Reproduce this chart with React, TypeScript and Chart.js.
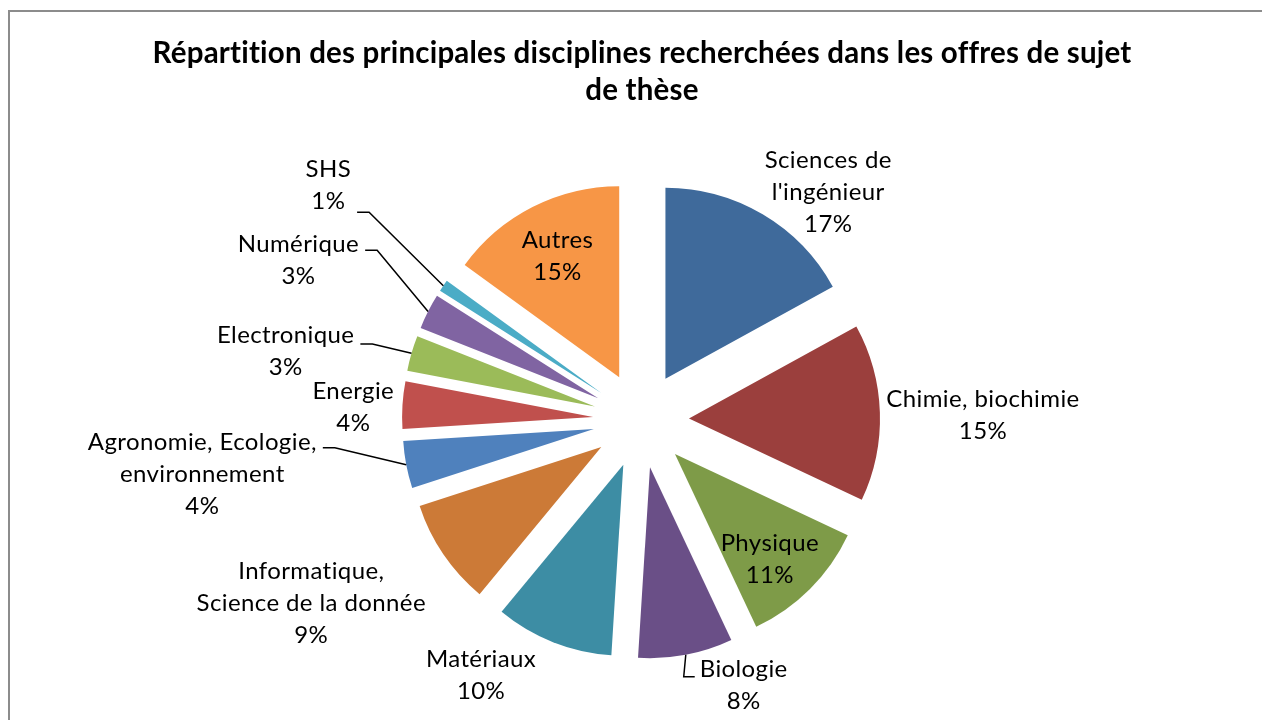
import { useEffect, useRef } from 'react';
import { Chart, registerables } from 'chart.js';

Chart.register(...registerables);

// ---- data ----
const TITLE_LINES = [
  'Répartition des principales disciplines recherchées dans les offres de sujet',
  'de thèse',
];
const CATEGORIES = [
  "Sciences de\nl'ingénieur",
  'Chimie, biochimie',
  'Physique',
  'Biologie',
  'Matériaux',
  'Informatique,\nScience de la donnée',
  'Agronomie, Ecologie,\nenvironnement',
  'Energie',
  'Electronique',
  'Numérique',
  'SHS',
  'Autres',
];
const SHARES = [17, 15, 11, 8, 10, 9, 4, 4, 3, 3, 1, 15];
const COLORS = [
  '#3F6A9B', '#9B3F3D', '#7E9B48', '#6A4F87', '#3D8DA4', '#CC7A37',
  '#4F81BD', '#C0504D', '#9BBB59', '#8064A2', '#4BACC6', '#F79646',
];

// ---- layout (placement of labels, relative to each slice) ----
const FONT = 'Lato, "Noto Sans", sans-serif';
const LABEL_FONT_SIZE = 24;
const LABEL_SPACING = '0.4px';
const LABEL_LINE_H = 32;
const TITLE_FONT_SIZE = 29.5;
const TITLE_SPACING = '0.2px';
const TITLE_LINE_H = 37;
const EXPLODE = 48;
const PIE_RADIUS = 191;
const LABEL_DIST = [295, 342, 190, 284, 301, 377, 442, 288, 362, 378, 391, 184];
const LABEL_SHIFT_DEG = [8.8, 1, 2.3, -10.4, 10.5, 5.2, 3.8, -1, -5.2, -2, 2.7, 0];
const LEADERS: ({ side: 'left' | 'right'; dy: number } | null)[] = [
  null, null, null, { side: 'right', dy: -8 }, null, null,
  { side: 'left', dy: -26 }, null, { side: 'left', dy: -7 },
  { side: 'left', dy: -10 }, { side: 'left', dy: 27 }, null,
];

const framePlugin = {
  id: 'frame',
  beforeDraw(chart: any) {
    const ctx = chart.ctx;
    ctx.save();
    ctx.fillStyle = '#ffffff';
    ctx.fillRect(0, 0, chart.width, chart.height);
    ctx.strokeStyle = '#8c8c8c';
    ctx.lineWidth = 2;
    ctx.strokeRect(9, 11, chart.width + 20, chart.height + 20);
    ctx.restore();
  },
};

const explodePlugin = {
  id: 'explode',
  beforeDatasetDraw(chart: any, args: any) {
    const ctx = chart.ctx;
    const meta = chart.getDatasetMeta(args.index);
    meta.data.forEach((arc: any) => {
      const mid = (arc.startAngle + arc.endAngle) / 2;
      ctx.save();
      ctx.translate(Math.cos(mid) * EXPLODE, Math.sin(mid) * EXPLODE);
      arc.draw(ctx, chart.chartArea);
      ctx.restore();
    });
    return false;
  },
};

const labelPlugin = {
  id: 'sliceLabels',
  afterDraw(chart: any) {
    const ctx = chart.ctx;
    const meta = chart.getDatasetMeta(0);
    const values: number[] = chart.data.datasets[0].data;
    const total = values.reduce((a, b) => a + b, 0);
    ctx.save();
    ctx.font = `${LABEL_FONT_SIZE}px ${FONT}`;
    (ctx as any).letterSpacing = LABEL_SPACING;
    ctx.fillStyle = '#000';
    ctx.textAlign = 'center';
    ctx.textBaseline = 'middle';
    meta.data.forEach((arc: any, i: number) => {
      const mid = (arc.startAngle + arc.endAngle) / 2;
      const a = mid + (LABEL_SHIFT_DEG[i] * Math.PI) / 180;
      const cx = arc.x + Math.cos(a) * LABEL_DIST[i];
      const cy = arc.y + Math.sin(a) * LABEL_DIST[i];
      const lines = String(chart.data.labels[i]).split('\n');
      lines.push(`${Math.round((values[i] / total) * 100)}%`);
      const y0 = cy - ((lines.length - 1) * LABEL_LINE_H) / 2;
      lines.forEach((ln, k) => ctx.fillText(ln, cx, y0 + k * LABEL_LINE_H));
      const ld = LEADERS[i];
      if (ld) {
        const w = Math.max(...lines.map((ln) => ctx.measureText(ln).width));
        const r = arc.outerRadius + EXPLODE;
        const sx = arc.x + Math.cos(mid) * r;
        const sy = arc.y + Math.sin(mid) * r;
        const ey = cy + ld.dy;
        const ex0 = ld.side === 'left' ? cx + w / 2 + 6 : cx - w / 2 - 5;
        const ex1 = ld.side === 'left' ? ex0 + 12 : ex0 - 11;
        ctx.beginPath();
        ctx.moveTo(sx, sy);
        ctx.lineTo(ex1, ey);
        ctx.lineTo(ex0, ey);
        ctx.strokeStyle = '#000';
        ctx.lineWidth = 1.5;
        ctx.stroke();
      }
    });
    ctx.restore();
  },
};

const titlePlugin = {
  id: 'customTitle',
  afterDraw(chart: any) {
    const ctx = chart.ctx;
    ctx.save();
    ctx.font = `bold ${TITLE_FONT_SIZE}px ${FONT}`;
    (ctx as any).letterSpacing = TITLE_SPACING;
    ctx.fillStyle = '#000';
    ctx.textAlign = 'center';
    ctx.textBaseline = 'middle';
    const cx = (chart.chartArea.left + chart.chartArea.right) / 2;
    TITLE_LINES.forEach((t, k) => ctx.fillText(t, cx + 1, 53 + k * TITLE_LINE_H));
    ctx.restore();
  },
};

export default function App() {
  const ref = useRef<HTMLCanvasElement>(null);
  useEffect(() => {
    if (!ref.current) return;
    const chart = new Chart(ref.current, {
      type: 'pie',
      data: {
        labels: CATEGORIES,
        datasets: [
          {
            data: SHARES,
            backgroundColor: COLORS,
            borderWidth: 0,
            radius: PIE_RADIUS,
          } as any,
        ],
      },
      options: {
        responsive: false,
        animation: false,
        events: [],
        layout: { padding: { left: 20, right: 0, top: 120, bottom: 0 } },
        plugins: {
          legend: { display: false },
          tooltip: { enabled: false },
          title: { display: false },
        },
      },
      plugins: [framePlugin, explodePlugin, labelPlugin, titlePlugin],
    });
    return () => chart.destroy();
  }, []);
  return (
    <div style={{ position: 'fixed', left: 0, top: 0, width: 1262, height: 720, background: '#fff' }}>
      <canvas ref={ref} width={1262} height={720} style={{ display: 'block' }} />
    </div>
  );
}
